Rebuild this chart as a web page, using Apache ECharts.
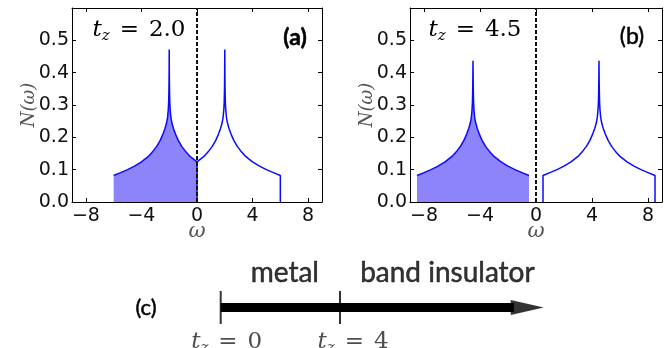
<!DOCTYPE html>
<html><head><meta charset="utf-8">
<script src="https://cdn.jsdelivr.net/npm/echarts@6/dist/echarts.min.js"></script>
<style>html,body{margin:0;padding:0;background:#fff}#c{width:666px;height:348px}</style>
</head><body><div id="c"></div>
<script>
// ---- axis ticks ----
const xTicks = [-8, -4, 0, 4, 8];
const yTicks = [0, 0.1, 0.2, 0.3, 0.4, 0.5];

// ---- panel (a): t_z = 2.0 ----
const aLowW = [-6, -5.5, -5, -4.5, -4, -3.5, -3.15, -2.9, -2.66, -2.45, -2.3, -2.19, -2.12, -2.07, -2.04, -2.02, -2.008, -2, -1.992, -1.98, -1.96, -1.93, -1.88, -1.81, -1.7, -1.55, -1.34, -1.1, -0.85, -0.5, 0];
const aLowN = [0.082, 0.091, 0.100, 0.111, 0.124, 0.141, 0.158, 0.172, 0.190, 0.210, 0.228, 0.245, 0.262, 0.285, 0.310, 0.350, 0.400, 0.472, 0.400, 0.350, 0.310, 0.285, 0.262, 0.245, 0.228, 0.210, 0.190, 0.172, 0.158, 0.141, 0.124];
const aUpW = [0, 0, 0.5, 0.85, 1.1, 1.34, 1.55, 1.7, 1.81, 1.88, 1.93, 1.96, 1.98, 1.992, 2, 2.008, 2.02, 2.04, 2.07, 2.12, 2.19, 2.3, 2.45, 2.66, 2.9, 3.15, 3.5, 4, 4.5, 5, 5.5, 6, 6];
const aUpN = [0, 0.124, 0.141, 0.158, 0.172, 0.190, 0.210, 0.228, 0.245, 0.262, 0.285, 0.310, 0.350, 0.400, 0.472, 0.400, 0.350, 0.310, 0.285, 0.262, 0.245, 0.228, 0.210, 0.190, 0.172, 0.158, 0.141, 0.124, 0.111, 0.100, 0.091, 0.082, 0];

// ---- panel (b): t_z = 4.5 ----
const bLowW = [-8.5, -8, -7.5, -7, -6.5, -6, -5.65, -5.4, -5.16, -4.95, -4.8, -4.69, -4.62, -4.57, -4.54, -4.52, -4.508, -4.5, -4.492, -4.48, -4.46, -4.43, -4.38, -4.31, -4.2, -4.05, -3.84, -3.6, -3.35, -3, -2.5, -2, -1.5, -1, -0.5];
const bLowN = [0.082, 0.091, 0.100, 0.111, 0.124, 0.141, 0.158, 0.172, 0.190, 0.210, 0.228, 0.245, 0.262, 0.285, 0.310, 0.350, 0.395, 0.437, 0.395, 0.350, 0.310, 0.285, 0.262, 0.245, 0.228, 0.210, 0.190, 0.172, 0.158, 0.141, 0.124, 0.111, 0.100, 0.091, 0.082];
const bUpW = [0.5, 0.5, 1, 1.5, 2, 2.5, 3, 3.35, 3.6, 3.84, 4.05, 4.2, 4.31, 4.38, 4.43, 4.46, 4.48, 4.492, 4.5, 4.508, 4.52, 4.54, 4.57, 4.62, 4.69, 4.8, 4.95, 5.16, 5.4, 5.65, 6, 6.5, 7, 7.5, 8, 8.5, 8.5];
const bUpN = [0, 0.082, 0.091, 0.100, 0.111, 0.124, 0.141, 0.158, 0.172, 0.190, 0.210, 0.228, 0.245, 0.262, 0.285, 0.310, 0.350, 0.395, 0.437, 0.395, 0.350, 0.310, 0.285, 0.262, 0.245, 0.228, 0.210, 0.190, 0.172, 0.158, 0.141, 0.124, 0.111, 0.100, 0.091, 0.082, 0];

// Fermi level marker (omega = 0)
const zeroW = [0, 0];
const zeroN = [0, 0.6];

// ---- panel (c): phase diagram along t_z ----
const tzMarks = [0, 4];
const tzMarkLabels = ['0', '4'];
const phaseNames = ['metal', 'band insulator'];
const phaseTz = [2.15, 7.6];
const arrowTz = [0, 10.83];   // shaft start, arrow tip

const zip = (a, b) => a.map((v, i) => [v, b[i]]);

const BLUE = '#0a0aff';
const FILL = '#8c84f8';
const SERIF = 'DejaVu Serif';

function fmtX(v) { return v < 0 ? '\u2212' + Math.abs(v) : String(v); }

function xAx(gi, pos, labels) {
  return {
    gridIndex: gi, type: 'value', min: -9, max: 9, position: pos,
    axisLine: { show: true, onZero: false, lineStyle: { color: '#000', width: 1 } },
    axisTick: { show: true, inside: true, length: 4, customValues: xTicks, lineStyle: { color: '#000' } },
    axisLabel: { show: labels, customValues: xTicks, formatter: fmtX, fontFamily: 'DejaVu Sans', fontSize: 19, color: '#111', margin: 5 },
    splitLine: { show: false },
    name: labels ? 'ω' : '', nameLocation: 'middle', nameGap: 19, nameMoveOverlap: false,
    nameTextStyle: { fontFamily: SERIF, fontStyle: 'italic', fontSize: 21, color: '#555' }
  };
}
function yAx(gi, pos, labels) {
  return {
    gridIndex: gi, type: 'value', min: 0, max: 0.6, interval: 0.1, position: pos,
    axisLine: { show: true, onZero: false, lineStyle: { color: '#000', width: 1 } },
    axisTick: { show: true, inside: true, length: 4, lineStyle: { color: '#000' } },
    axisLabel: { show: labels, formatter: v => (v > 0.55 ? '' : v.toFixed(1)), fontFamily: 'DejaVu Sans', fontSize: 19, color: '#111', margin: 3 },
    splitLine: { show: false },
    name: labels ? 'N(ω)' : '', nameLocation: 'middle', nameGap: 34, nameRotate: 90, nameMoveOverlap: false,
    nameTextStyle: { fontFamily: SERIF, fontStyle: 'italic', fontSize: 18, color: '#555' }
  };
}

function mathRich(col) {
  return {
    i: { fontFamily: SERIF, fontStyle: 'italic', fontSize: 23, color: col },
    s: { fontFamily: SERIF, fontStyle: 'italic', fontSize: 15, color: col, padding: [13, 0, 0, 0] },
    e: { fontFamily: SERIF, fontSize: 23, color: col, padding: [0, 10, 0, 10] },
    n: { fontFamily: SERIF, fontSize: 23, color: col }
  };
}

function band(name, xi, W, N, filled) {
  const s = {
    name, type: 'line', xAxisIndex: xi, yAxisIndex: xi, data: zip(W, N),
    symbol: 'none', showSymbol: false, animation: false, z: 3,
    lineStyle: { color: BLUE, width: 1.5 }
  };
  if (filled) s.areaStyle = { color: FILL, opacity: 1 };
  return s;
}
function zeroLine(xi) {
  return {
    type: 'line', xAxisIndex: xi, yAxisIndex: xi, data: zip(zeroW, zeroN),
    symbol: 'none', animation: false, z: 6,
    lineStyle: { color: '#111', width: 2, type: [4, 2] }
  };
}

const bigText = { fontFamily: 'Lato', fill: '#000', stroke: '#000', lineWidth: 0.5, align: 'center', verticalAlign: 'middle' };

const chart = echarts.init(document.getElementById('c'), null, { renderer: 'canvas' });
chart.setOption({
  animation: false,
  backgroundColor: '#fff',
  grid: [
    { left: 72, top: 8, width: 250, height: 194 },
    { left: 410, top: 8, width: 252, height: 194 },
    { left: 220.7, top: 290, width: 328.1, height: 35 }
  ],
  xAxis: [
    xAx(0, 'bottom', true), xAx(0, 'top', false),
    xAx(1, 'bottom', true), xAx(1, 'top', false),
    { gridIndex: 2, type: 'value', min: 0, max: 11, show: false }
  ],
  yAxis: [
    yAx(0, 'left', true), yAx(0, 'right', false),
    yAx(1, 'left', true), yAx(1, 'right', false),
    { gridIndex: 2, type: 'value', min: -1, max: 1, show: false }
  ],
  graphic: [
    { type: 'text', x: 139, y: 30, style: { text: '{i|t}{s|z}{e|=}{n|2.0}', rich: mathRich('#3a3a3a'), align: 'center', verticalAlign: 'middle' } },
    { type: 'text', x: 475, y: 30, style: { text: '{i|t}{s|z}{e|=}{n|4.5}', rich: mathRich('#3a3a3a'), align: 'center', verticalAlign: 'middle' } },
    { type: 'text', x: 295, y: 38, style: Object.assign({ text: '(a)', fontSize: 23, fontWeight: 'bold', lineWidth: 0.2 }, bigText) },
    { type: 'text', x: 632, y: 37, style: Object.assign({ text: '(b)', fontSize: 23 }, bigText) },
    { type: 'text', x: 146, y: 308, style: Object.assign({ text: '(c)', fontSize: 22 }, bigText) }
  ],
  series: [
    band('aLow', 0, aLowW, aLowN, true),
    band('aUp', 0, aUpW, aUpN, false),
    zeroLine(0),
    band('bLow', 2, bLowW, bLowN, true),
    band('bUp', 2, bUpW, bUpN, false),
    zeroLine(2),
    // panel (c)
    {
      type: 'line', xAxisIndex: 4, yAxisIndex: 4, symbol: 'none', animation: false,
      data: [[arrowTz[0], 0], [arrowTz[1] - 1.0, 0]],
      lineStyle: { color: '#000', width: 9, cap: 'butt' }
    },
    {
      type: 'scatter', xAxisIndex: 4, yAxisIndex: 4, animation: false,
      data: [[arrowTz[1] - 0.553, 0]],
      symbol: 'path://M0 0 L10 5 L0 10 Z', symbolKeepAspect: false, symbolSize: [33, 15],
      itemStyle: { color: '#000' }
    },
    {
      type: 'scatter', xAxisIndex: 4, yAxisIndex: 4, animation: false,
      data: tzMarks.map((t, i) => ({ value: [t, 0], label: { offset: [i === 0 ? 6 : 13, 0] } })),
      symbol: 'rect', symbolSize: [2, 33], itemStyle: { color: '#000' },
      label: {
        show: true, position: 'bottom', distance: 4,
        formatter: p => '{i|t}{s|z}{e|=}{n|' + tzMarkLabels[p.dataIndex] + '}',
        rich: mathRich('#222')
      }
    },
    {
      type: 'scatter', xAxisIndex: 4, yAxisIndex: 4, animation: false,
      data: phaseTz.map(t => [t, 0]),
      symbolSize: 1, itemStyle: { color: 'rgba(0,0,0,0)' },
      label: {
        show: true, position: 'top', distance: 20,
        formatter: p => phaseNames[p.dataIndex],
        fontFamily: 'Lato', fontSize: 28, color: '#000', textBorderColor: '#000', textBorderWidth: 0.5
      }
    }
  ]
});
</script>
</body></html>
